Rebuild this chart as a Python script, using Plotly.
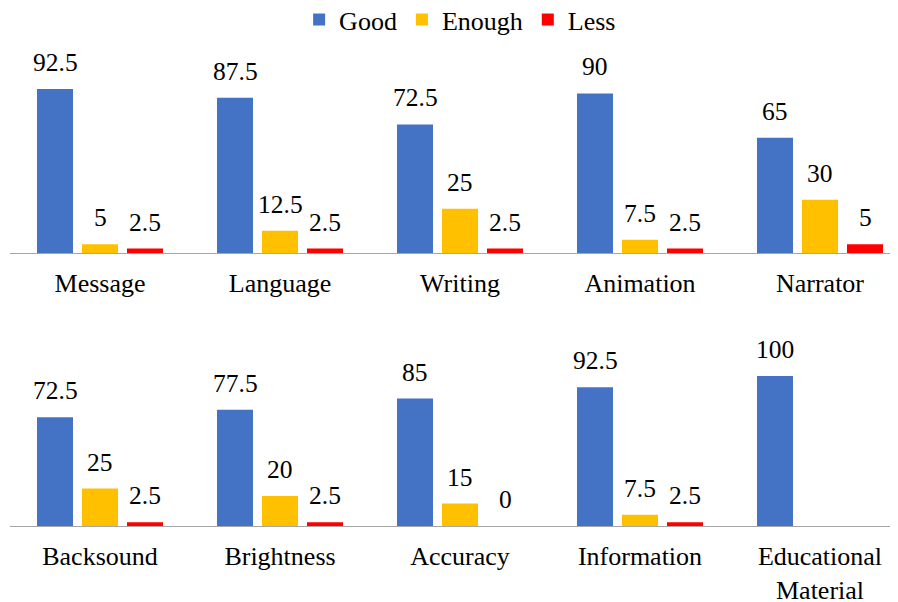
import plotly.graph_objects as go

series = ["Good", "Enough", "Less"]
colors = ["#4472C4", "#FFC000", "#FF0000"]

cats_top = ["Message", "Language", "Writing", "Animation", "Narrator"]
good_top = [92.5, 87.5, 72.5, 90, 65]
enough_top = [5, 12.5, 25, 7.5, 30]
less_top = [2.5, 2.5, 2.5, 2.5, 5]

cats_bot = ["Backsound", "Brightness", "Accuracy", "Information", "Educational<br>Material"]
good_bot = [72.5, 77.5, 85, 92.5, 100]
enough_bot = [25, 20, 15, 7.5, None]
less_bot = [2.5, 2.5, 0, 2.5, None]

FONT = "Liberation Serif"
FS = 26
LFS = 25.5
BARGAP = 0.25

fig = go.Figure()

rows = [
    (cats_top, [good_top, enough_top, less_top], "x", "y", True),
    (cats_bot, [good_bot, enough_bot, less_bot], "x2", "y2", False),
]

annotations = []
n = len(series)
slot = (1 - BARGAP) / n
for cats, vals, xa, ya, show in rows:
    for k, (name, col, v) in enumerate(zip(series, colors, vals)):
        fig.add_trace(go.Bar(
            x=cats, y=v, name=name, marker=dict(color=col, line=dict(width=0)),
            xaxis=xa, yaxis=ya, showlegend=show, legendgroup=name,
        ))
        off = (k - (n - 1) / 2) * slot
        for i, val in enumerate(v):
            if val is None:
                continue
            annotations.append(dict(
                x=i + off, y=val, xref=xa, yref=ya, text=f"{val:g}", showarrow=False,
                xanchor="center", yanchor="bottom", yshift=10,
                font=dict(family=FONT, size=LFS, color="black"),
            ))

H = 594.0
W = 890.0
x_dom = [2 / W, 1.0]
x_range = [-0.5, -0.5 + (W - 2) / 180.0]

axis_common = dict(
    showgrid=False, zeroline=False, showline=True, linecolor="#A6A6A6", linewidth=1,
    ticks="", ticklabelstandoff=7,
    tickfont=dict(family=FONT, size=FS, color="black"),
    range=x_range, domain=x_dom, fixedrange=True, automargin=False,
)
yaxis_common = dict(visible=False, showgrid=False, zeroline=False, fixedrange=True,
                    automargin=False)

fig.update_layout(
    width=890, height=594,
    margin=dict(l=0, r=0, t=0, b=0, autoexpand=False),
    paper_bgcolor="white", plot_bgcolor="white",
    barmode="group", bargap=BARGAP, bargroupgap=0.2,
    font=dict(family=FONT, size=FS, color="black"),
    xaxis=dict(**axis_common, anchor="y"),
    xaxis2=dict(**axis_common, anchor="y2"),
    yaxis=dict(**yaxis_common, range=[0, 100], domain=[(H - 245) / H, (H - 67.7) / H]),
    yaxis2=dict(**yaxis_common, range=[0, 120], domain=[(H - 518) / H, (H - 338) / H]),
    legend=dict(orientation="h", x=0.508, xanchor="center", y=1.02, yanchor="top",
                font=dict(family=FONT, size=FS, color="black"), itemwidth=30,
                traceorder="normal", bgcolor="rgba(0,0,0,0)"),
    annotations=annotations,
    showlegend=True,
)

fig.write_html("out.html")
